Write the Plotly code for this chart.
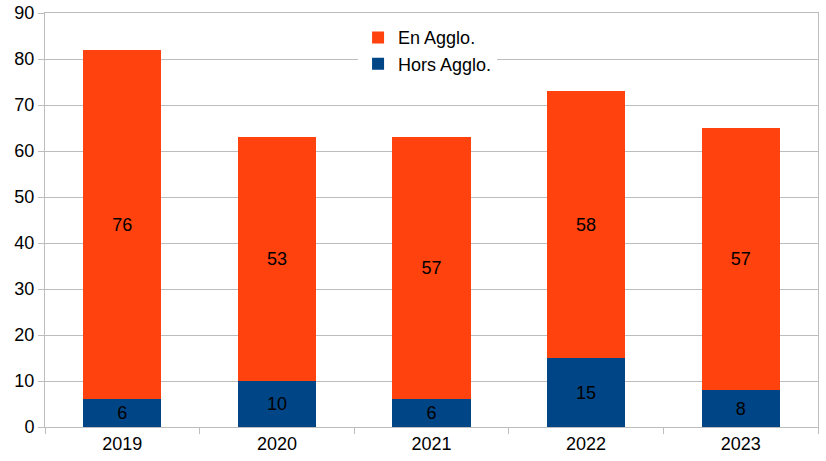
import plotly.graph_objects as go

years = ["2019", "2020", "2021", "2022", "2023"]
hors_agglo = [6, 10, 6, 15, 8]
en_agglo = [76, 53, 57, 58, 57]

fig = go.Figure()

# bottom part of each stack
fig.add_trace(go.Bar(x=years, y=hors_agglo, name="Hors Agglo.",
                     marker=dict(color="#004586", line=dict(width=0)),
                     text=hors_agglo, textposition="inside", insidetextanchor="middle",
                     textfont=dict(color="black", size=18)))
# top part
fig.add_trace(go.Bar(x=years, y=en_agglo, name="En Agglo.",
                     marker=dict(color="#ff420e", line=dict(width=0)),
                     text=en_agglo, textposition="inside", insidetextanchor="middle",
                     textfont=dict(color="black", size=18)))

grid = "#bdbdbd"
fig.update_layout(
    barmode="stack", bargap=0.495,
    width=826, height=461,
    margin=dict(l=45, r=8, t=13, b=34, autoexpand=False),
    paper_bgcolor="white", plot_bgcolor="white",
    font=dict(family="Liberation Sans, Arial, sans-serif", size=18, color="black"),
    uniformtext=dict(mode="show", minsize=10),
    legend=dict(x=0.405, y=0.985, xanchor="left", yanchor="top",
                bgcolor="white", font=dict(size=18),
                traceorder="reversed", itemwidth=30, tracegroupgap=0),
)
fig.update_xaxes(type="category", showgrid=False, ticks="outside", tickson="boundaries",
                 ticklen=6, tickcolor=grid, showline=True, linecolor=grid,
                 mirror=True, automargin=False)
fig.update_yaxes(range=[0, 90], dtick=10, showgrid=True, gridcolor=grid,
                 ticks="outside", ticklen=6, tickcolor=grid,
                 showline=True, linecolor=grid, mirror=True, zeroline=False,
                 automargin=False, ticklabeloverflow="allow")

# drop the default 8px body margin so the figure fills the window
fig.write_html("out.html", config={"displayModeBar": False},
               post_script="document.body.style.margin = '0';")
